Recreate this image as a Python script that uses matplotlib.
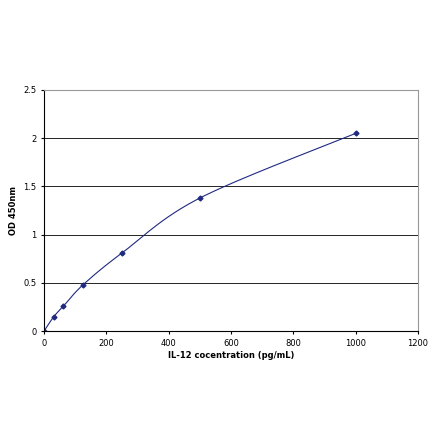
import numpy as np
import matplotlib
matplotlib.use("Agg")
import matplotlib.pyplot as plt

conc = [0, 31.25, 62.5, 125, 250, 500, 1000]
od = [0.0, 0.15, 0.26, 0.48, 0.81, 1.38, 2.05]


def catmull_rom(x, y, n=30):
    # Excel-style smoothed line through the points
    x = np.asarray(x, float)
    y = np.asarray(y, float)
    px = np.concatenate([[x[0]], x, [x[-1]]])
    py = np.concatenate([[y[0]], y, [y[-1]]])
    xs, ys = [], []
    for i in range(1, len(px) - 2):
        t = np.linspace(0, 1, n)
        for p, out in ((px, xs), (py, ys)):
            p0, p1, p2, p3 = p[i - 1], p[i], p[i + 1], p[i + 2]
            out.extend(0.5 * (2 * p1 + (-p0 + p2) * t
                              + (2 * p0 - 5 * p1 + 4 * p2 - p3) * t ** 2
                              + (-p0 + 3 * p1 - 3 * p2 + p3) * t ** 3))
    return np.array(xs), np.array(ys)


fig = plt.figure(figsize=(4.4, 4.41), dpi=100)
ax = fig.add_axes([0.1, 0.249, 0.85, 0.547])

sx, sy = catmull_rom(conc, od)
ax.plot(sx, sy, color="#1f2a80", lw=0.8)
ax.plot(conc, od, "D", color="#1f2a80", ms=2.5, ls="none")

ax.set_xlim(0, 1200)
ax.set_ylim(0, 2.5)
ax.set_xticks(range(0, 1201, 200))
ax.set_yticks([0, 0.5, 1, 1.5, 2, 2.5])
ax.set_yticklabels(["0", "0.5", "1", "1.5", "2", "2.5"])
ax.yaxis.grid(True, color="black", lw=0.6)
ax.set_axisbelow(True)
for s in ("top", "right"):
    ax.spines[s].set_color("#999999")
ax.tick_params(labelsize=6, length=2)
ax.set_xlabel("IL-12 cocentration (pg/mL)", fontsize=6, fontweight="bold", labelpad=2)
ax.set_ylabel("OD 450nm", fontsize=6, fontweight="bold", labelpad=4)

fig.savefig("out.png", dpi=100)
